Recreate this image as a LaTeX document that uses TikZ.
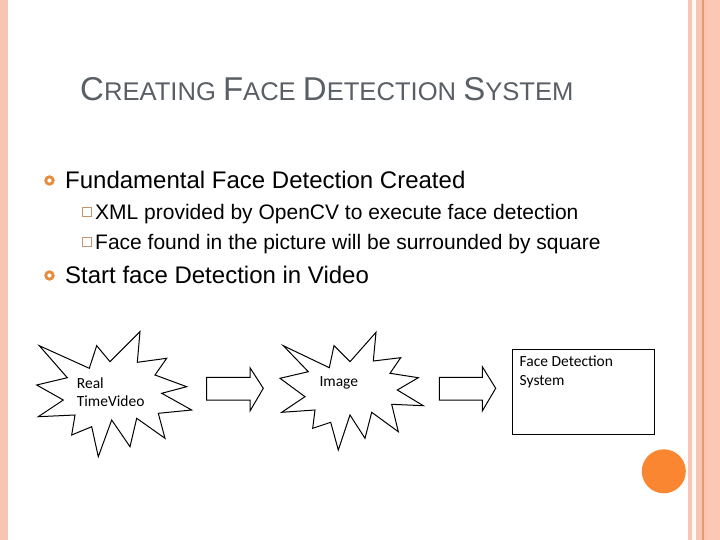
\documentclass[tikz,border=0pt]{standalone}
\usepackage{fontspec}
\setmainfont{Liberation Sans}
\newfontfamily\calfont{Carlito}
\definecolor{stripe}{RGB}{248,197,178}
\definecolor{stripedeep}{RGB}{252,199,180}
\definecolor{stripeline}{RGB}{229,155,108}
\definecolor{cream}{RGB}{255,249,242}
\definecolor{titlegray}{RGB}{90,95,102}
\definecolor{bulletorange}{RGB}{228,140,60}
\definecolor{boxbrown}{RGB}{196,150,112}
\definecolor{dotorange}{RGB}{250,134,50}
\newcommand\titlecap[1]{{\fontsize{33}{33}\selectfont #1}}
\tikzset{
  txt/.style={inner sep=0pt, anchor=base west},
  lone/.style={txt, font=\fontsize{24}{28}\selectfont},
  ltwo/.style={txt, font=\fontsize{21}{25}\selectfont},
  dtxt/.style={txt, font=\calfont\fontsize{15.5}{18}\selectfont},
  ring/.style={draw=bulletorange, line width=2.8pt, circle, minimum size=7.5pt, inner sep=0pt},
  sqbullet/.style={draw=boxbrown, line width=0.8pt, minimum size=9.5pt, inner sep=0pt},
  shapeline/.style={draw=black, line width=1pt, line join=miter}
}
\begin{document}
\begin{tikzpicture}[x=1pt,y=-1pt]
\path[use as bounding box, fill=white] (0,0) rectangle (720,540);
% borders
\fill[stripe] (0,0) rectangle (8,540);
\fill[stripe] (688,0) rectangle (692,540);
\fill[cream] (692,0) rectangle (696,540);
\fill[stripe] (696,0) rectangle (702,540);
\fill[stripeline] (702,0) rectangle (703.5,540);
\fill[stripe] (703.5,0) rectangle (707,540);
\fill[stripedeep] (707,0) rectangle (720,540);
% title
\node[txt, text=titlegray, font=\fontsize{25.6}{25.6}\selectfont] (title) at (80,101)
  {\titlecap{C}REATING \titlecap{F}ACE \titlecap{D}ETECTION \titlecap{S}YSTEM};
% bullets
\node[ring] (r1) at (49.5,180.5) {};
\node[lone] (b1) at (65,188.5) {Fundamental Face Detection Created};
\node[sqbullet] (s1) at (87,212) {};
\node[ltwo] (b2) at (95,219.5) {XML provided by OpenCV to execute face detection};
\node[sqbullet] (s2) at (87,242) {};
\node[ltwo] (b3) at (95,249.5) {Face found in the picture will be surrounded by square};
\node[ring] (r2) at (49.5,275.5) {};
\node[lone] (b4) at (65,283.5) {Start face Detection in Video};
% star 1
\draw[shapeline] (39.3,345.7) -- (89.3,368.3) -- (96.7,345.7) -- (110,361.7) -- (140,331.7)
  -- (137.3,362.3) -- (166.7,358.3) -- (155,375) -- (186.7,386.7) -- (161.7,393.3)
  -- (191.7,410) -- (158.3,413.3) -- (165,438.3) -- (136.7,418.3) -- (130,446.7)
  -- (111.7,420) -- (98.3,456.7) -- (91.7,426.7) -- (71.7,435) -- (75,415)
  -- (38.3,416.7) -- (63.3,400) -- (36.7,385) -- (67.3,377.7) -- cycle;
\node[dtxt] (real1) at (76.7,388.3) {Real};
\node[dtxt] (real2) at (76.7,406.7) {TimeVideo};
% arrow 1
\draw[shapeline] (206.7,377.3) -- (250,377.3) -- (250,367.7) -- (263.3,388.3)
  -- (250,411) -- (250,400) -- (206.7,400) -- cycle;
% star 2
\draw[shapeline] (283.3,345.7) -- (329.3,367.7) -- (334,345.7) -- (350,361.7) -- (376,332.3)
  -- (373.3,361) -- (400.7,357.7) -- (390,373.3) -- (418.3,377.7) -- (397.3,390)
  -- (423.3,405.7) -- (391.7,404.3) -- (398.3,431.7) -- (371.7,412.3) -- (365,438.3)
  -- (350,415) -- (338.3,450) -- (330.7,422.3) -- (312.7,428.3) -- (315,410)
  -- (281.7,412.3) -- (305,396.7) -- (280,378.3) -- (308.3,371.7) -- cycle;
\node[dtxt] (img) at (319.3,386) {Image};
% arrow 2
\draw[shapeline] (439.3,377.3) -- (482.3,377.3) -- (482.3,366.7) -- (495.7,388.3)
  -- (482.3,411) -- (482.3,400) -- (439.3,400) -- cycle;
% box
\draw[black, line width=1pt] (512.7,349.3) rectangle (654.3,434);
\node[dtxt] (fd1) at (519.5,366.7) {Face Detection};
\node[dtxt] (fd2) at (519.5,385.5) {System};
% orange dot
\fill[dotorange] (663.8,471.3) circle (22);
\end{tikzpicture}
\end{document}
